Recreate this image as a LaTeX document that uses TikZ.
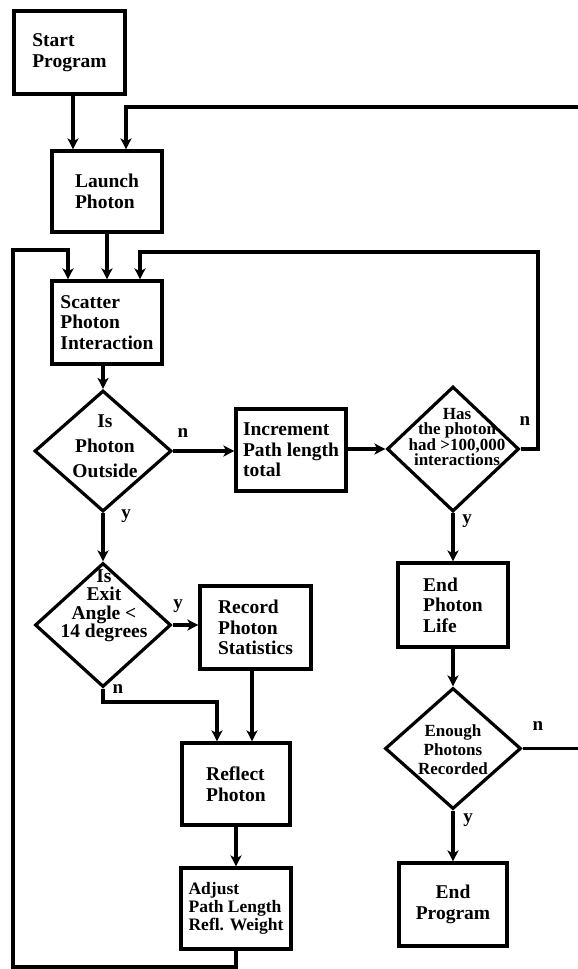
\documentclass[tikz,border=0pt]{standalone}
\usepackage{fontspec}
\setmainfont{Liberation Serif}
\usetikzlibrary{shapes.geometric,arrows.meta}
\begin{document}
\begin{tikzpicture}[x=1pt,y=-1pt,
  lw/.style={line width=3.2pt},
  box/.style={draw,lw,rectangle,inner sep=0pt,align=left,minimum width=110pt,minimum height=82pt,font=\fontsize{19.5}{20.5}\selectfont\bfseries},
  dia/.style={draw,lw,diamond,inner sep=0pt},
  dtext/.style={align=center,inner sep=0pt},
  lab/.style={font=\fontsize{19}{21}\selectfont\bfseries,inner sep=0pt},
  conn/.style={lw},
  arr/.style={lw,-{Stealth[length=11pt,width=11pt,inset=3pt]}},
]
\useasboundingbox (0,0) rectangle (578,969);

% boxes and decisions
\node[box,minimum width=111pt,minimum height=83pt] (start) at (69.5,52.5) {Start\\Program};
\node[box,minimum height=81pt] (launch) at (107,191.5) {Launch\\Photon};
\node[box,minimum height=83pt] (scatter) at (107,322.5) {Scatter\\Photon\\Interaction};
\node[dia,minimum width=137pt,minimum height=121pt] (outside) at (103,451) {};
\node[dtext,font=\fontsize{19.5}{25}\selectfont\bfseries] (outsidet) at (105,446) {Is\\Photon\\Outside};
\node[box] (incr) at (291,450) {Increment\\Path length\\total};
\node[dia,minimum width=132pt,minimum height=125pt] (has) at (453,449) {};
\node[dtext,font=\fontsize{17}{15.5}\selectfont\bfseries] (hast) at (457,437) {Has\\the photon\\had >100,000\\interactions};
\node[box,minimum height=84pt] (endlife) at (453,605) {End\\Photon\\Life};
\node[dia,minimum width=136pt,minimum height=121pt] (enough) at (453,748.5) {};
\node[dtext,font=\fontsize{17}{19}\selectfont\bfseries] (enought) at (453,750) {Enough\\Photons\\Recorded};
\node[box,align=center,minimum width=108pt,minimum height=83pt] (endprog) at (453,904.5) {End\\Program};
\node[dia,minimum width=136pt,minimum height=124pt] (exit) at (103,625) {};
\node[dtext,font=\fontsize{19.5}{18.5}\selectfont\bfseries] (exitt) at (104,606) {Is\\Exit\\Angle <\\14 degrees};
\node[box,minimum width=111pt,minimum height=83pt] (record) at (255.5,627.5) {Record\\Photon\\Statistics};
\node[box,minimum width=108pt] (reflect) at (236,784) {Reflect\\Photon};
\node[box,minimum width=110pt,minimum height=81pt,font=\fontsize{17.5}{18}\selectfont\bfseries] (adjust) at (236,908.5) {Adjust\\Path Length\\Refl. Weight};

% connectors
\draw[arr] ([xshift=3.5pt]start.south) -- ([xshift=3.5pt]start.south |- launch.north);
\coordinate (rt) at (578,107);
\draw[arr] (rt) -| ([xshift=19pt]launch.north);
\draw[arr] (launch.south) -- (scatter.north);
\coordinate (lb) at (13,967);
\coordinate (lt) at (13,250);
\draw[arr] (adjust.south) |- (lb) -- (lt) -| ([xshift=-39pt]scatter.north);
\coordinate (rr) at (538,252);
\draw[arr] (has.east) -| (rr) -| ([xshift=33pt]scatter.north);
\draw[arr] (scatter.south -| outside.north) -- (outside.north);
\draw[arr] (outside.east) -- (outside.east -| incr.west);
\draw[arr] (incr.east |- has.west) -- (has.west);
\draw[arr] (has.south) -- (endlife.north);
\draw[arr] (endlife.south) -- (enough.north);
\coordinate (re) at (578,748.5);
\draw[conn] (enough.east) -- (re);
\draw[arr] (enough.south) -- (endprog.north);
\draw[arr] (outside.south) -- (exit.north);
\draw[arr] (exit.east) -- (exit.east -| record.west);
\coordinate (en) at (103,702);
\draw[arr] (exit.south) -- (en) -| ([xshift=-19pt]reflect.north);
\draw[arr] ([xshift=16pt]reflect.north |- record.south) -- ([xshift=16pt]reflect.north);
\draw[arr] (reflect.south) -- (adjust.north);

% labels
\node[lab] (l1) at (183,433) {n};
\node[lab] (l2) at (126,516) {y};
\node[lab] (l3) at (525,421) {n};
\node[lab] (l4) at (467,521) {y};
\node[lab] (l5) at (178,606) {y};
\node[lab] (l6) at (118,689) {n};
\node[lab] (l7) at (538,726) {n};
\node[lab] (l8) at (468,820) {y};
\end{tikzpicture}
\end{document}
